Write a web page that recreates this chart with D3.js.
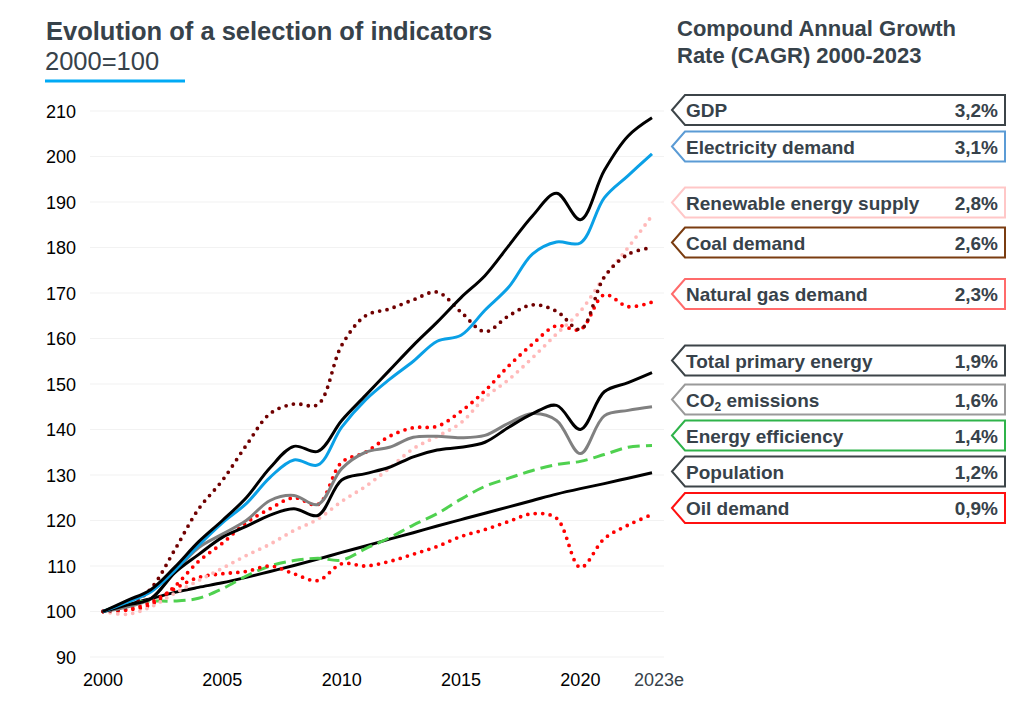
<!DOCTYPE html>
<html>
<head>
<meta charset="utf-8">
<script src="https://cdn.jsdelivr.net/npm/d3@7"></script>
<style>
  body { margin: 0; background: #fff; }
  svg { font-family: "Liberation Sans", Arial, sans-serif; }
</style>
</head>
<body>
<div id="chart"></div>
<script>
// years and index values (2000=100)
const years = d3.range(2000, 2024);
const gdp = [100, 102.4, 104.8, 109.7, 115.3, 120, 125, 131.6, 136.3, 135.2, 142, 147.5, 153, 158.5, 163.6, 169, 173.8, 180.4, 187, 191.9, 186.1, 196.9, 204.5, 208.5];
const electricity = [100, 102, 104.3, 109, 114.5, 119.5, 123.7, 129.5, 133.3, 132.2, 140.5, 146.5, 151, 155, 159.4, 160.7, 166.2, 171.3, 178.6, 181.2, 181, 190.9, 195.8, 200.6];
const renewable = [100, 99.4, 101, 104, 106.8, 109.5, 112.3, 114.8, 117.8, 120.3, 124.2, 127.5, 131.5, 135.8, 138.5, 141.5, 147, 151, 155.8, 161, 166, 173.5, 180, 187];
const coal = [100, 101, 105, 113.5, 122.5, 128.8, 136.5, 143.5, 145.6, 145.5, 158.5, 165, 166.5, 168.5, 170.2, 165.8, 161.5, 165, 167.4, 166, 162, 173.5, 178.5, 180];
const naturalGas = [100, 100.3, 101.5, 105.5, 111, 115, 119.5, 122.6, 125, 123.5, 132.8, 135, 138.5, 140.4, 140.7, 144, 148.5, 154, 158.8, 162.8, 162, 169.6, 167, 168];
const primaryEnergy = [100, 101.4, 102.8, 108.5, 112.5, 116.3, 118.7, 121.2, 122.6, 121.1, 128.9, 130.3, 131.7, 134, 135.5, 136.1, 137.2, 140.5, 143.5, 145.3, 140, 148.3, 150.3, 152.5];
const co2 = [100, 101, 102.8, 108.6, 114, 117, 120, 124.4, 125.5, 123.5, 131.4, 135, 136.1, 138.3, 138.5, 138.2, 138.7, 141.4, 143.5, 142, 134.7, 143, 144.2, 145];
const efficiency = [100, 101.7, 102.3, 102.3, 102.9, 105, 107.8, 110, 111.2, 111.7, 111.3, 113.8, 116.2, 119, 121.5, 124.7, 127.5, 129.3, 131, 132.3, 133, 134.5, 136.1, 136.5];
const population = [100, 101.5, 102.8, 104.2, 105.3, 106.3, 107.5, 108.8, 110.1, 111.5, 113, 114.4, 115.9, 117.3, 118.8, 120.2, 121.6, 123, 124.4, 125.8, 127, 128.1, 129.3, 130.5];
const oil = [100, 100.5, 102, 105, 107.5, 108.3, 108.8, 110, 108.3, 106.8, 110.5, 110, 111, 112.6, 114.3, 116.5, 118, 119.8, 121.5, 120.5, 109.7, 116, 119, 121.3];

// legend labels and CAGR
const legendNames = ["GDP", "Electricity demand", "Renewable energy supply", "Coal demand", "Natural gas demand",
  "Total primary energy", "CO2 emissions", "Energy efficiency", "Population", "Oil demand"];
const cagr = ["3,2%", "3,1%", "2,8%", "2,6%", "2,3%", "1,9%", "1,6%", "1,4%", "1,2%", "0,9%"];

const yTicks = d3.range(90, 211, 10);
const xTicks = [2000, 2005, 2010, 2015, 2020, 2023];
const xTickLabels = ["2000", "2005", "2010", "2015", "2020", "2023e"];

// styling per series (draw order: bottom first)
const series = [
  { values: population, color: "#000", width: 3, type: "solid" },
  { values: efficiency, color: "#4fd14f", width: 3, type: "dash" },
  { values: oil, color: "#ff0000", width: 3.8, type: "dot" },
  { values: naturalGas, color: "#ff0000", width: 3.8, type: "dot" },
  { values: renewable, color: "#ffb9b9", width: 3.8, type: "dot" },
  { values: coal, color: "#700000", width: 3.8, type: "dot" },
  { values: co2, color: "#808080", width: 3, type: "solid" },
  { values: primaryEnergy, color: "#000", width: 3, type: "solid" },
  { values: electricity, color: "#0aa0e6", width: 3, type: "solid" },
  { values: gdp, color: "#000", width: 3, type: "solid" }
];

const legendBorder = ["#3c4448", "#5b9bd5", "#ffc7c7", "#7a3c10", "#ff6b6b",
  "#3c4448", "#9a9a9a", "#2fb34a", "#3c4448", "#ff1010"];
const legendCenter = [110, 146.5, 202.5, 242.5, 294, 360.5, 399.5, 435.5, 471.5, 508];

const W = 1027, H = 706;
const textColor = "#37424a";

const svg = d3.select("#chart").append("svg")
  .attr("width", W).attr("height", H);

const x = d3.scaleLinear().domain([2000, 2023]).range([103, 652]);
const y = d3.scaleLinear().domain([90, 210]).range([657, 111]);

// gridlines
svg.append("g")
  .selectAll("line")
  .data(yTicks)
  .enter()
  .append("line")
  .attr("x1", 90).attr("x2", 664)
  .attr("y1", d => y(d)).attr("y2", d => y(d))
  .attr("stroke", "#f2f2f2")
  .attr("stroke-width", 1.2);

// y axis labels
svg.append("g")
  .selectAll("text")
  .data(yTicks)
  .enter()
  .append("text")
  .attr("x", 76)
  .attr("y", d => y(d) + 6.5)
  .attr("text-anchor", "end")
  .attr("font-size", 18)
  .attr("fill", "#000")
  .text(d => d);

// x axis labels
svg.append("g")
  .selectAll("text")
  .data(xTicks)
  .enter()
  .append("text")
  .attr("x", (d, i) => i === xTicks.length - 1 ? x(d) + 7 : x(d))
  .attr("y", 686)
  .attr("text-anchor", "middle")
  .attr("font-size", 18)
  .attr("fill", (d, i) => i === xTicks.length - 1 ? textColor : "#000")
  .text((d, i) => xTickLabels[i]);

// lines
const line = d3.line()
  .x((d, i) => x(years[i]))
  .y(d => y(d))
  .curve(d3.curveCatmullRom.alpha(0.5));

svg.append("g")
  .selectAll("path")
  .data(series)
  .enter()
  .append("path")
  .attr("d", d => line(d.values))
  .attr("fill", "none")
  .attr("stroke", d => d.color)
  .attr("stroke-width", d => d.width)
  .attr("stroke-linecap", d => d.type === "dot" ? "round" : "butt")
  .attr("stroke-linejoin", "round")
  .attr("stroke-dasharray", d => d.type === "dot" ? "0 7.5" : d.type === "dash" ? "12 6" : null);

// titles
svg.append("text")
  .attr("x", 46).attr("y", 40)
  .attr("font-size", 25.5).attr("font-weight", "bold")
  .attr("fill", textColor)
  .text("Evolution of a selection of indicators");

svg.append("text")
  .attr("x", 45).attr("y", 70)
  .attr("font-size", 25.5)
  .attr("fill", textColor)
  .text("2000=100");

svg.append("line")
  .attr("x1", 45).attr("x2", 185)
  .attr("y1", 81).attr("y2", 81)
  .attr("stroke", "#00aaf5").attr("stroke-width", 3);

svg.append("text")
  .attr("x", 677).attr("y", 36)
  .attr("font-size", 22).attr("font-weight", "bold")
  .attr("fill", textColor)
  .text("Compound Annual Growth");

svg.append("text")
  .attr("x", 677).attr("y", 63)
  .attr("font-size", 22).attr("font-weight", "bold")
  .attr("fill", textColor)
  .text("Rate (CAGR) 2000-2023");

// legend tags
const tipX = 672, bodyX = 685, rightX = 1005, halfH = 15;
const tags = svg.append("g")
  .selectAll("g")
  .data(legendNames)
  .enter()
  .append("g")
  .attr("transform", (d, i) => "translate(0," + legendCenter[i] + ")");

tags.append("polygon")
  .attr("points", [
    tipX + ",0",
    bodyX + "," + -halfH,
    rightX + "," + -halfH,
    rightX + "," + halfH,
    bodyX + "," + halfH
  ].join(" "))
  .attr("fill", "#fff")
  .attr("stroke", (d, i) => legendBorder[i])
  .attr("stroke-width", 2);

tags.append("text")
  .attr("x", 686).attr("y", 7)
  .attr("font-size", 19).attr("font-weight", "bold")
  .attr("fill", textColor)
  .each(function(d) {
    const t = d3.select(this);
    if (d.startsWith("CO2")) {
      t.append("tspan").text("CO");
      t.append("tspan").attr("font-size", 12).attr("dy", 4).text("2");
      t.append("tspan").attr("dy", -4).text(" emissions");
    } else {
      t.text(d);
    }
  });

tags.append("text")
  .attr("x", 998).attr("y", 7)
  .attr("text-anchor", "end")
  .attr("font-size", 19).attr("font-weight", "bold")
  .attr("fill", textColor)
  .text((d, i) => cagr[i]);
</script>
</body>
</html>
